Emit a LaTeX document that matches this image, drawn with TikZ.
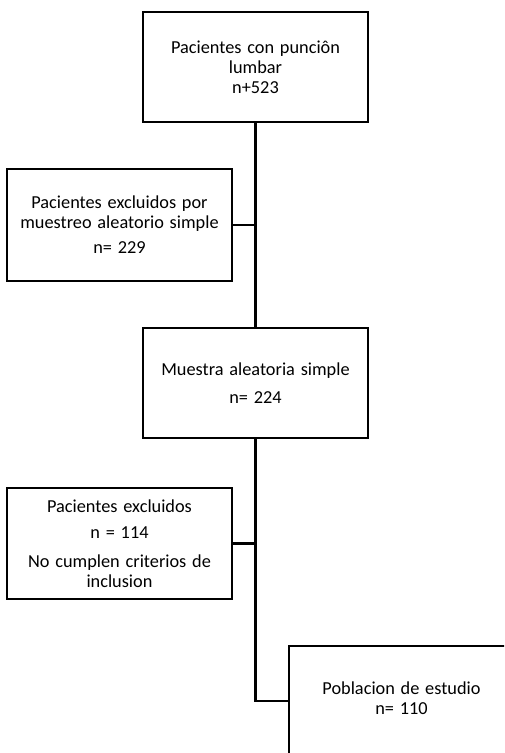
\documentclass[tikz,border=0pt]{standalone}
\usepackage{fontspec}
\setmainfont[WordSpace=1.4]{Carlito}
\begin{document}
\begin{tikzpicture}[x=1pt,y=-1pt,
  box/.style={draw=black,line width=2pt,rectangle,minimum width=225pt,align=center,inner sep=0pt,
    font=\fontsize{18.3}{20}\selectfont},
  link/.style={draw=black,line width=2.6pt},
  lbl/.style={align=center,inner sep=0pt,font=\fontsize{18.3}{20}\selectfont}]
\useasboundingbox (0,0) rectangle (504,753);
\clip (0,0) rectangle (504,753);
\node[box,minimum height=110pt] (b1) at (255.5,67) {Pacientes con punciôn\\lumbar\\n+523};
\node[box,minimum height=112pt] (b2) at (119.5,225) {Pacientes excluidos por\\muestreo aleatorio simple\\[5pt]n= 229};
\node[box,minimum height=110pt] (b3) at (255.5,383) {Muestra aleatoria  simple\\[8pt]n= 224};
\node[box,minimum height=111pt] (b4) at (119.5,543.5) {Pacientes excluidos\\[6pt]n = 114\\[9pt]No cumplen criterios de\\inclusion};
\node[box,minimum height=110pt] (b5) at (401.5,701) {};
\node[lbl] (t5) at (401.5,698) {Poblacion de estudio\\n= 110};
\draw[link] (b1.south) -- (b3.north);
\draw[link] (b2.east) -- (b2.east -| b1.south);
\draw[link] (b3.south) |- (b5.west);
\draw[link] (b4.east) -- (b4.east -| b3.south);
\end{tikzpicture}
\end{document}
